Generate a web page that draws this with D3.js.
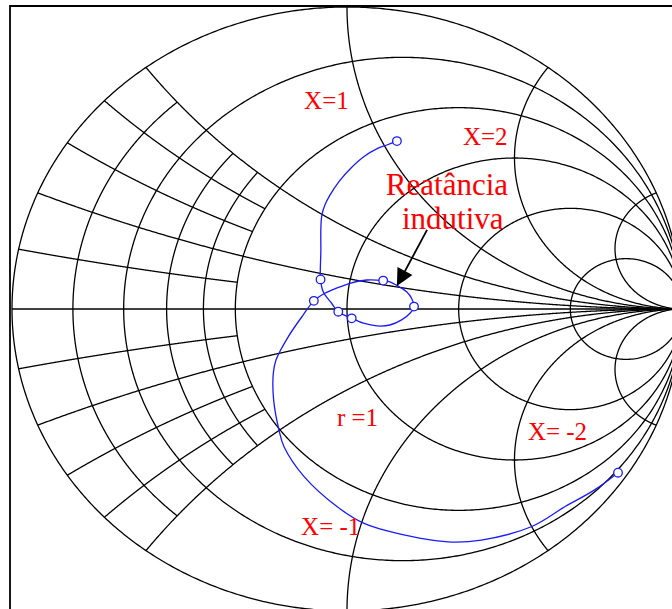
<!DOCTYPE html>
<html>
<head>
<meta charset="utf-8">
<script src="https://cdn.jsdelivr.net/npm/d3@7"></script>
<style>
  html, body { margin: 0; padding: 0; background: #fff; overflow: hidden; }
  text { font-family: "Liberation Serif", "Times New Roman", serif; fill: #ff0000; }
</style>
</head>
<body>
<svg id="chart" width="672" height="609"></svg>
<script>
// ---- Smith chart grid definition (normalized impedance z = r + jx) ----
const majorResistances = [0, 0.2, 0.5, 1, 2, 5];   // full circles
const minorResistances = [0.1, 0.3, 0.4];          // only for |x| <= minorLimit
const majorReactances  = [0.2, 0.5, 1, 2, 5];      // full arcs, both signs
const minorReactances  = [0.1, 0.3, 0.4];          // only for r <= minorLimit
const minorLimit = 0.5;

// ---- Measured trace, as reflection coefficient (real, imaginary) ----
const traceRe = [0.149, 0.119, 0.090, 0.051, 0.012, -0.024, -0.051, -0.066, -0.075, -0.078, -0.078, -0.079,
                 -0.071, -0.046, -0.026, 0.014, 0.049, 0.089, 0.128, 0.163, 0.188, 0.200,
                 0.193, 0.178, 0.148, 0.128, 0.108, 0.059, 0.009, -0.031, -0.066, -0.099,
                 -0.131, -0.176, -0.212, -0.220, -0.219, -0.203, -0.188, -0.128, -0.029, 0.051,
                 0.150, 0.301, 0.401, 0.550, 0.650, 0.739, 0.809];
const traceIm = [0.556, 0.543, 0.531, 0.505, 0.467, 0.422, 0.377, 0.344, 0.311, 0.268, 0.195, 0.098,
                 0.057, 0.019, -0.009, -0.031, -0.047, -0.056, -0.053, -0.036, -0.014, 0.008,
                 0.035, 0.057, 0.079, 0.090, 0.094, 0.096, 0.085, 0.069, 0.052, 0.027,
                 -0.020, -0.093, -0.169, -0.213, -0.301, -0.401, -0.456, -0.555, -0.655, -0.710,
                 -0.743, -0.771, -0.765, -0.721, -0.655, -0.599, -0.542];
// Sample points marked with circles
const markerRe = [0.149, -0.079, -0.099, -0.026, 0.014, 0.108, 0.200, 0.809];
const markerIm = [0.556, 0.098, 0.027, -0.009, -0.031, 0.094, 0.008, -0.542];

// ---- Annotations (anchored in reflection-coefficient coordinates) ----
const labelText = ["X=1", "X=2", "Reatância", "indutiva", "r =1", "X= -2", "X= -1"];
const labelRe   = [-0.128, 0.346, 0.116, 0.164, -0.030, 0.540, -0.137];
const labelIm   = [0.662, 0.543, 0.377, 0.265, -0.387, -0.434, -0.748];
const labelSize = [25, 25, 31, 31, 25, 25, 25];
const arrowFrom = [0.239, 0.262];
const arrowTo   = [0.149, 0.076];

// ---- Scales: unit disc mapped onto the plotting area ----
const sx = d3.scaleLinear().domain([-1, 1]).range([12, 682]);
const sy = d3.scaleLinear().domain([-1, 1]).range([611, 7]);

const svg = d3.select("#chart");

// Reflection coefficient for z = r + jx
function gamma(r, x) {
  const den = (r + 1) * (r + 1) + x * x;
  return [(r * r - 1 + x * x) / den, (2 * x) / den];
}

const path = d3.line().x(d => sx(d[0])).y(d => sy(d[1]));
const N = 700;

// Constant-resistance circle, for reactance in [-xMax, xMax]
function resistanceCurve(r, xMax) {
  const t = Math.atan(xMax);
  return d3.range(N + 1).map(i => {
    const a = -t + (2 * t * i) / N;
    const x = Math.abs(a) >= Math.PI / 2 - 1e-9 ? Math.sign(a) * 1e9 : Math.tan(a);
    return gamma(r, x);
  });
}
// Constant-reactance arc, for resistance in [0, rMax]
function reactanceCurve(x, rMax) {
  const t = Math.atan(rMax);
  return d3.range(N + 1).map(i => {
    const a = (t * i) / N;
    const r = a >= Math.PI / 2 - 1e-9 ? 1e9 : Math.tan(a);
    return gamma(r, x);
  });
}

const grid = svg.append("g")
  .attr("fill", "none")
  .attr("stroke", "#000")
  .attr("stroke-width", 1.3);

majorResistances.forEach(r => grid.append("path").attr("d", path(resistanceCurve(r, Infinity))));
minorResistances.forEach(r => grid.append("path").attr("d", path(resistanceCurve(r, minorLimit))));
majorReactances.forEach(x => {
  grid.append("path").attr("d", path(reactanceCurve(x, Infinity)));
  grid.append("path").attr("d", path(reactanceCurve(-x, Infinity)));
});
minorReactances.forEach(x => {
  grid.append("path").attr("d", path(reactanceCurve(x, minorLimit)));
  grid.append("path").attr("d", path(reactanceCurve(-x, minorLimit)));
});
// Real axis
grid.append("line")
  .attr("x1", sx(-1)).attr("y1", sy(0))
  .attr("x2", sx(1)).attr("y2", sy(0));

// Frame
svg.append("path")
  .attr("d", `M10,609 V6 H672`)
  .attr("fill", "none")
  .attr("stroke", "#000")
  .attr("stroke-width", 1.8);

// Trace
const tracePts = traceRe.map((re, i) => [re, traceIm[i]]);
svg.append("path")
  .attr("d", d3.line().x(d => sx(d[0])).y(d => sy(d[1])).curve(d3.curveCatmullRom.alpha(0.5))(tracePts))
  .attr("fill", "none")
  .attr("stroke", "#1a1aff")
  .attr("stroke-width", 1.3);

svg.append("g").selectAll("circle")
  .data(markerRe.map((re, i) => [re, markerIm[i]]))
  .join("circle")
  .attr("cx", d => sx(d[0]))
  .attr("cy", d => sy(d[1]))
  .attr("r", 4.3)
  .attr("fill", "#fff")
  .attr("stroke", "#1a1aff")
  .attr("stroke-width", 1.3);

// Labels
svg.append("g").selectAll("text")
  .data(labelText.map((t, i) => ({ t, re: labelRe[i], im: labelIm[i], s: labelSize[i] })))
  .join("text")
  .attr("x", d => sx(d.re))
  .attr("y", d => sy(d.im))
  .attr("font-size", d => d.s)
  .text(d => d.t);

// Arrow pointing at the inductive part of the trace
const ax1 = sx(arrowFrom[0]), ay1 = sy(arrowFrom[1]);
const ax2 = sx(arrowTo[0]),   ay2 = sy(arrowTo[1]);
const len = Math.hypot(ax2 - ax1, ay2 - ay1);
const ux = (ax2 - ax1) / len, uy = (ay2 - ay1) / len;
const headLen = 17, headHalf = 8.5;
const bx = ax2 - ux * headLen, by = ay2 - uy * headLen;
svg.append("line")
  .attr("x1", ax1).attr("y1", ay1)
  .attr("x2", bx + ux * 2).attr("y2", by + uy * 2)
  .attr("stroke", "#000")
  .attr("stroke-width", 1.8);
svg.append("path")
  .attr("d", `M${ax2},${ay2} L${bx - uy * headHalf},${by + ux * headHalf} L${bx + uy * headHalf},${by - ux * headHalf} Z`)
  .attr("fill", "#000");
</script>
</body>
</html>
